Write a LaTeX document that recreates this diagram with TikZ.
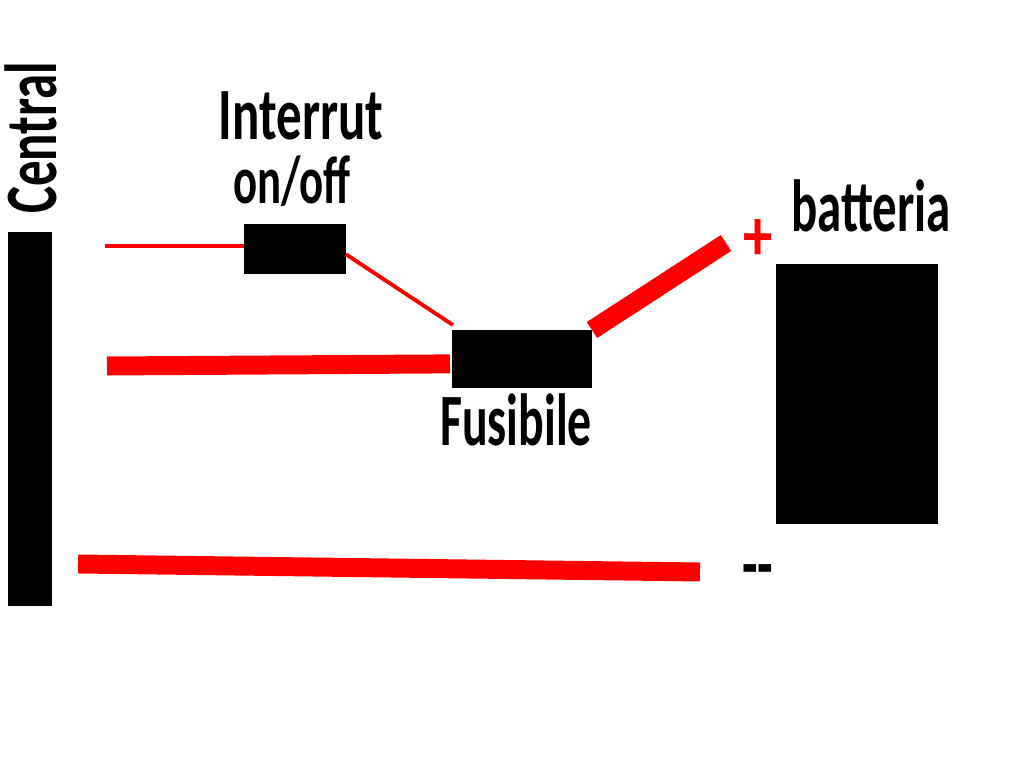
\documentclass[tikz,border=0pt]{standalone}
\usepackage{fontspec}
\setmainfont{Carlito}
\definecolor{wirered}{RGB}{255, 0, 0}
\tikzset{
    blackbox/.style={fill=black, inner sep=0pt, outer sep=0pt},
    lbl/.style={font=\fontsize{21}{21}\selectfont\bfseries, inner sep=0pt, anchor=base, xscale=0.69},
    thinwire/.style={wirered, line width=1.1pt},
    thickwire/.style={wirered, line width=5.4pt}
}
\begin{document}
\begin{tikzpicture}
    \useasboundingbox (0,0) rectangle (10.24,7.68);
    \node[blackbox, minimum width=0.44cm, minimum height=3.74cm] (central) at (0.30,3.49) {};
    \node[blackbox, minimum width=1.02cm, minimum height=0.50cm] (interrut) at (2.95,5.19) {};
    \node[blackbox, minimum width=1.40cm, minimum height=0.58cm] (fusibile) at (5.22,4.09) {};
    \node[blackbox, minimum width=1.62cm, minimum height=2.60cm] (batteria) at (8.57,3.74) {};
    % text
    \node[rotate=90, lbl] (lcentral) at (0.57,6.30) {Central};
    \node[lbl] (linterrut) at (3.01,6.28) {Interrut};
    \node[lbl, xscale=0.88, yscale=0.92] (lonoff) at (2.92,5.64) {on/off};
    \node[lbl, xscale=0.94] (lfusibile) at (5.16,3.22) {Fusibile};
    \node[lbl, xscale=0.96] (lbatteria) at (8.71,5.36) {batteria};
    \node[lbl, text=wirered, xscale=1.15] (plus) at (7.58,5.07) {+};
    \node[lbl] (minus) at (7.58,1.78) {-{}-};
    % free ends
    \coordinate (w1) at (1.05,5.22);
    \coordinate (w2) at (1.07,4.02);
    \coordinate (w3) at (7.26,5.25);
    \coordinate (w4) at (0.78,2.04);
    \coordinate (w5) at (7.00,1.96);
    \coordinate (w6) at (4.53,4.43);
    % wires
    \draw[thinwire] (w1) -- (w1 -| interrut.west);
    \draw[thinwire] (interrut.-6) -- (w6);
    \draw[thickwire, shorten >=0.02cm] (w2) -- (fusibile.184);
    \draw[thickwire] (fusibile.north east) -- (w3);
    \draw[thickwire] (w4) -- (w5);
\end{tikzpicture}
\end{document}
